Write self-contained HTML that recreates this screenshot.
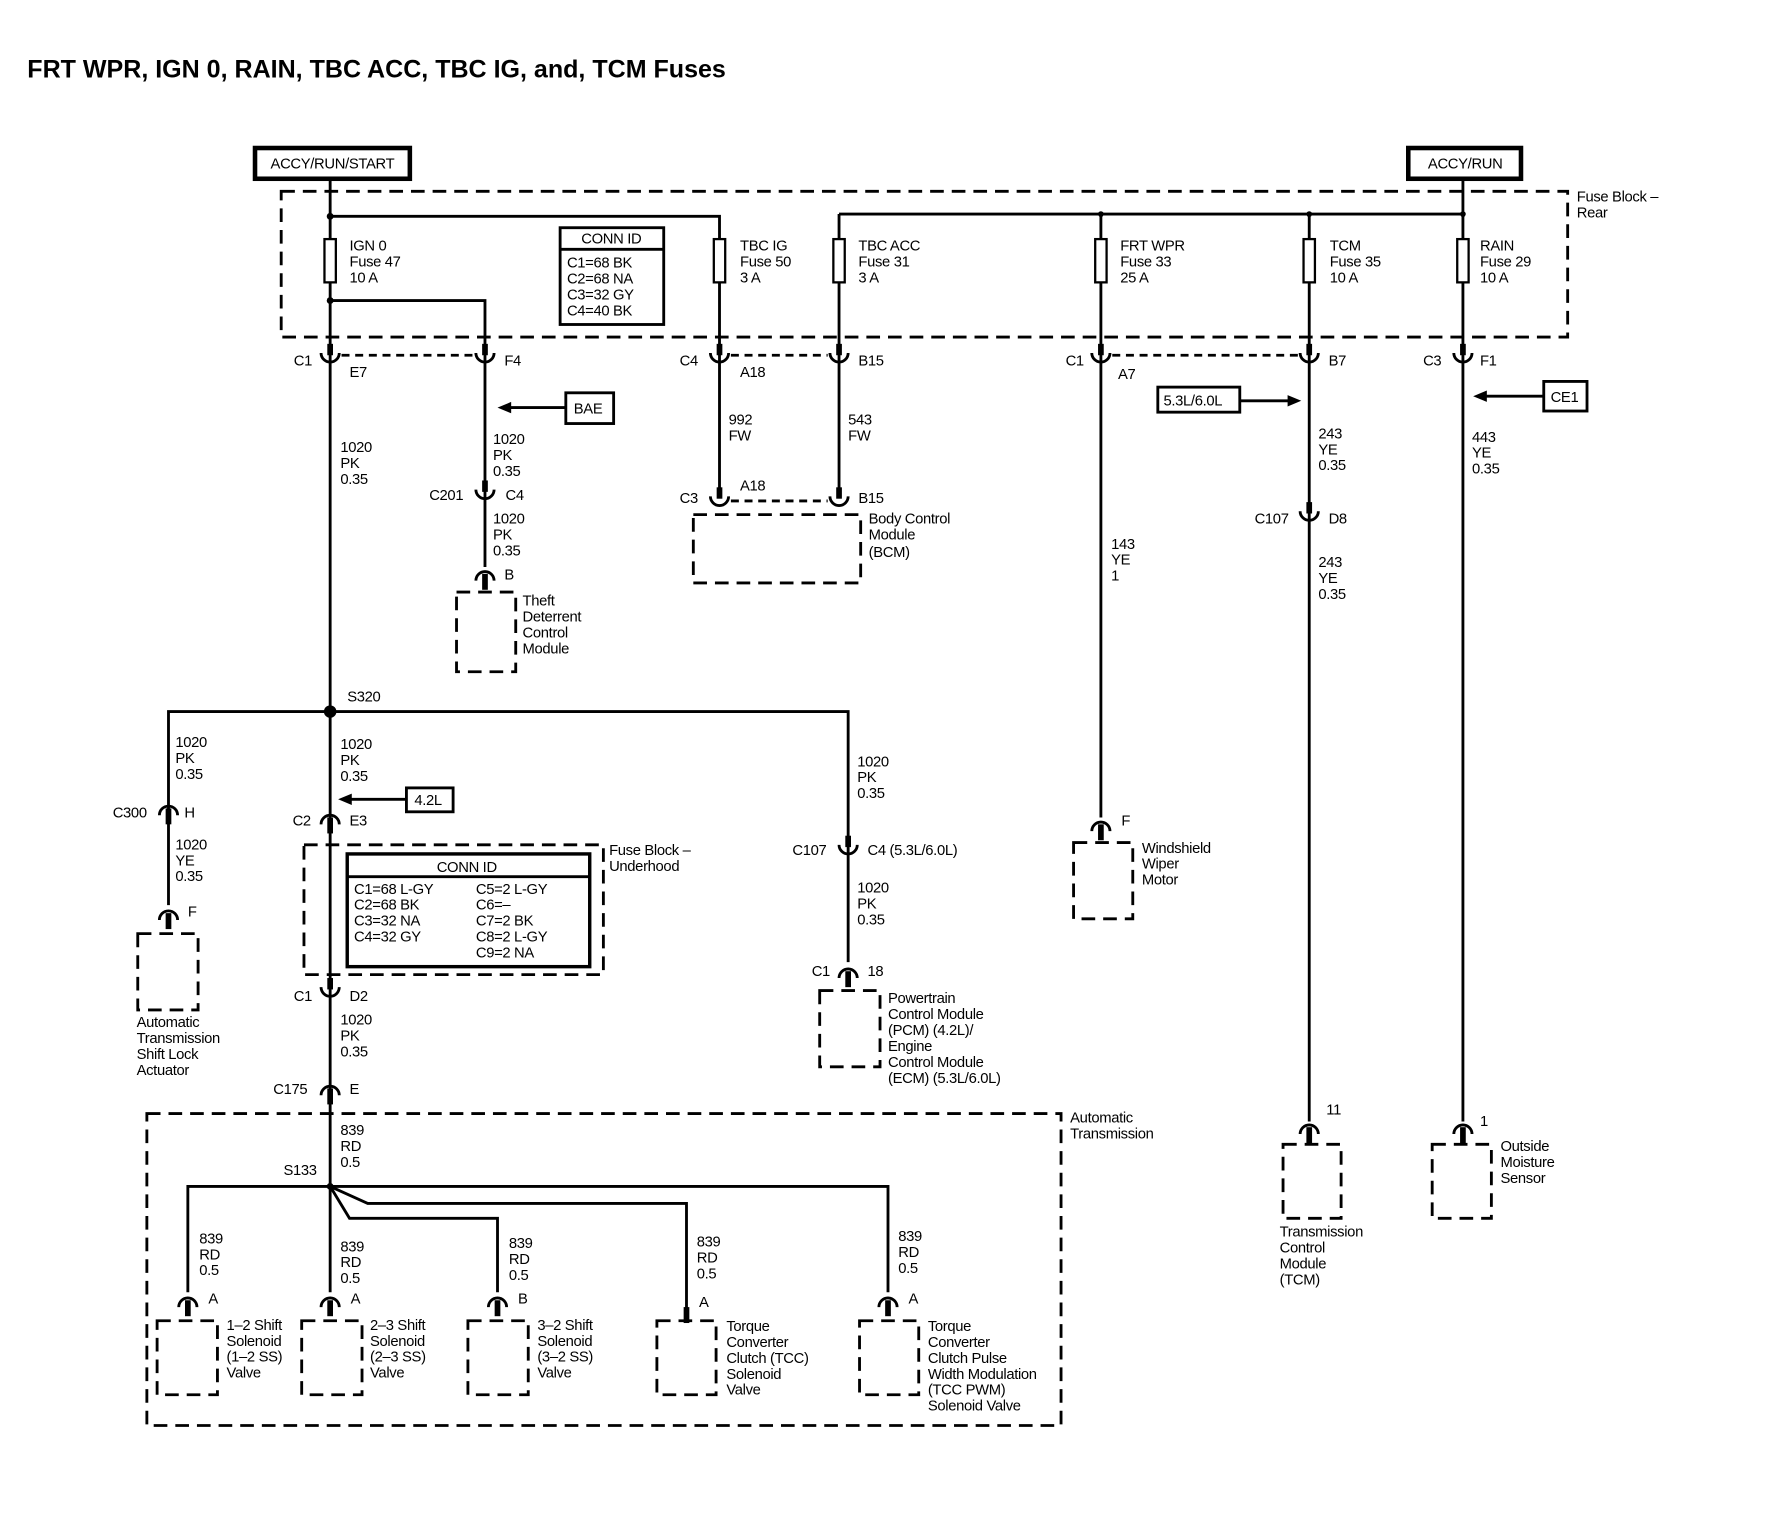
<!DOCTYPE html>
<html><head><meta charset="utf-8"><style>
html,body{margin:0;padding:0;background:#fff;}
svg{display:block;}
text{font-family:"Liberation Sans",sans-serif;font-size:13px;fill:#000;letter-spacing:-0.3px;}
.t{font-size:22px;font-weight:bold;letter-spacing:0;}
</style></head><body>
<svg width="1776" height="1520" viewBox="0 0 1560 1335" preserveAspectRatio="none" xmlns="http://www.w3.org/2000/svg">
<defs>
<g id="cup"><rect x="-2.5" y="-14" width="5" height="10" fill="#000"/><path d="M-8,-6 A8,8 0 0 0 8,-6" fill="none" stroke="#000" stroke-width="2.5"/></g>
<g id="arch"><path d="M-8,6 A8,8 0 0 1 8,6" fill="none" stroke="#000" stroke-width="2.5"/><rect x="-2.5" y="0" width="5" height="14" fill="#000"/></g>
<g id="fuse"><rect x="-5" y="-19" width="10" height="38" fill="#fff" stroke="#000" stroke-width="2"/></g>
</defs>
<text class="t" x="24" y="68">FRT WPR, IGN 0, RAIN, TBC ACC, TBC IG, and, TCM Fuses</text>

<g fill="none" stroke="#000" stroke-width="2.5">
<g stroke-dasharray="12 7">
<rect x="247" y="168" width="1130" height="128"/>
<rect x="267" y="742" width="263" height="114"/>
<rect x="129" y="978" width="803" height="274"/>
<rect x="609" y="452" width="147" height="60"/>
<rect x="401" y="520" width="52" height="70"/>
<rect x="943" y="740" width="52" height="67"/>
<rect x="1127" y="1005" width="51" height="65"/>
<rect x="1258" y="1005" width="52" height="65"/>
<rect x="121" y="820" width="53" height="67"/>
<rect x="720" y="870" width="53" height="67"/>
<rect x="138" y="1160" width="53" height="65"/>
<rect x="265" y="1160" width="53" height="65"/>
<rect x="411" y="1160" width="53" height="65"/>
<rect x="577" y="1160" width="52" height="65"/>
<rect x="755" y="1160" width="52" height="65"/>
</g>
<g stroke-dasharray="7 5">
<line x1="300" y1="312" x2="416" y2="312"/>
<line x1="642" y1="312" x2="727" y2="312"/>
<line x1="977" y1="312" x2="1140" y2="312"/>
<line x1="642" y1="440" x2="727" y2="440"/>
</g>
<polyline points="290,158 290,1042"/>
<polyline points="290,190 632,190 632,430"/>
<polyline points="290,264 426,264 426,498"/>
<polyline points="737,188 1285,188"/>
<line x1="1285" y1="158" x2="1285" y2="985"/>
<line x1="737" y1="188" x2="737" y2="430"/>
<line x1="967" y1="188" x2="967" y2="718"/>
<line x1="1150" y1="188" x2="1150" y2="985"/>
<polyline points="148,718 148,625 745,625 745,845"/>
<line x1="148" y1="718" x2="148" y2="795"/>
<polyline points="165,1135 165,1042 780,1042 780,1135"/>
<polyline points="290,1042 323,1057 603,1057 603,1160"/>
<polyline points="290,1042 307,1070 437,1070 437,1135"/>
<line x1="290" y1="1042" x2="290" y2="1135"/>
<line x1="497" y1="358" x2="445" y2="358"/>
<line x1="1356" y1="348" x2="1302" y2="348"/>
<line x1="357" y1="702" x2="305" y2="702"/>
<line x1="1089" y1="352" x2="1135" y2="352"/>
</g>
<g fill="#000">
<path d="M437,358 L449,353 L449,363Z"/>
<path d="M1294,348 L1306,343 L1306,353Z"/>
<path d="M297,702 L309,697 L309,707Z"/>
<path d="M1143,352 L1131,347 L1131,357Z"/>
<circle cx="290" cy="190" r="3"/><circle cx="290" cy="264" r="3"/>
<circle cx="967" cy="188" r="2.5"/><circle cx="1150" cy="188" r="2.5"/><circle cx="1285" cy="188" r="2.5"/>
<circle cx="290" cy="625" r="5.5"/><circle cx="290" cy="1042" r="3"/>
</g>
<use href="#fuse" x="290" y="229"/><use href="#fuse" x="632" y="229"/><use href="#fuse" x="737" y="229"/>
<use href="#fuse" x="967" y="229"/><use href="#fuse" x="1150" y="229"/><use href="#fuse" x="1285" y="229"/>
<use href="#cup" x="290" y="316"/><use href="#cup" x="426" y="316"/><use href="#cup" x="632" y="316"/>
<use href="#cup" x="737" y="316"/><use href="#cup" x="967" y="316"/><use href="#cup" x="1150" y="316"/><use href="#cup" x="1285" y="316"/>
<use href="#cup" x="426" y="436"/><use href="#cup" x="632" y="442"/><use href="#cup" x="737" y="442"/>
<use href="#cup" x="1150" y="455"/><use href="#cup" x="745" y="748"/><use href="#cup" x="290" y="873"/>
<use href="#arch" x="426" y="504"/><use href="#arch" x="967" y="724"/><use href="#arch" x="1150" y="990"/>
<use href="#arch" x="1285" y="990"/><use href="#arch" x="148" y="710"/><use href="#arch" x="148" y="802"/>
<use href="#arch" x="290" y="718"/><use href="#arch" x="745" y="853"/><use href="#arch" x="290" y="956"/>
<use href="#arch" x="165" y="1142"/><use href="#arch" x="290" y="1142"/><use href="#arch" x="437" y="1142"/><use href="#arch" x="780" y="1142"/>
<rect x="600.5" y="1148" width="5" height="14"/>
<rect x="224" y="130" width="136" height="27" fill="#fff" stroke="#000" stroke-width="4"/>
<text x="292" y="148" text-anchor="middle">ACCY/RUN/START</text>
<rect x="1237" y="130" width="99" height="27" fill="#fff" stroke="#000" stroke-width="4"/>
<text x="1287" y="148" text-anchor="middle">ACCY/RUN</text>
<rect x="492" y="200" width="91" height="85" fill="#fff" stroke="#000" stroke-width="2.5"/>
<line x1="492" y1="219" x2="583" y2="219" stroke="#000" stroke-width="2.5"/>
<text x="537" y="214" text-anchor="middle">CONN ID</text>
<text x="498" y="235">C1=68 BK</text><text x="498" y="249">C2=68 NA</text><text x="498" y="263">C3=32 GY</text><text x="498" y="277">C4=40 BK</text>
<rect x="305" y="750" width="213" height="99" fill="#fff" stroke="#000" stroke-width="3"/>
<line x1="305" y1="770" x2="518" y2="770" stroke="#000" stroke-width="2.5"/>
<text x="410" y="766" text-anchor="middle">CONN ID</text>
<text x="311" y="785">C1=68 L-GY</text><text x="311" y="799">C2=68 BK</text><text x="311" y="813">C3=32 NA</text><text x="311" y="827">C4=32 GY</text>
<text x="418" y="785">C5=2 L-GY</text><text x="418" y="799">C6=–</text><text x="418" y="813">C7=2 BK</text><text x="418" y="827">C8=2 L-GY</text><text x="418" y="841">C9=2 NA</text>
<g fill="#fff" stroke="#000" stroke-width="2.5">
<rect x="497" y="345" width="42" height="27"/><rect x="1356" y="335" width="38" height="26"/>
<rect x="357" y="692" width="41" height="21"/><rect x="1017" y="340" width="72" height="22"/>
</g>
<text x="504" y="363">BAE</text><text x="1362" y="353">CE1</text><text x="364" y="707">4.2L</text><text x="1022" y="356">5.3L/6.0L</text>
<text x="1385" y="177">Fuse Block –</text><text x="1385" y="191">Rear</text>
<text x="307" y="220">IGN 0</text><text x="307" y="234">Fuse 47</text><text x="307" y="248">10 A</text>
<text x="650" y="220">TBC IG</text><text x="650" y="234">Fuse 50</text><text x="650" y="248">3 A</text>
<text x="754" y="220">TBC ACC</text><text x="754" y="234">Fuse 31</text><text x="754" y="248">3 A</text>
<text x="984" y="220">FRT WPR</text><text x="984" y="234">Fuse 33</text><text x="984" y="248">25 A</text>
<text x="1168" y="220">TCM</text><text x="1168" y="234">Fuse 35</text><text x="1168" y="248">10 A</text>
<text x="1300" y="220">RAIN</text><text x="1300" y="234">Fuse 29</text><text x="1300" y="248">10 A</text>
<text x="258" y="321">C1</text><text x="307" y="331">E7</text><text x="443" y="321">F4</text>
<text x="597" y="321">C4</text><text x="650" y="331">A18</text><text x="754" y="321">B15</text>
<text x="936" y="321">C1</text><text x="982" y="333">A7</text><text x="1167" y="321">B7</text>
<text x="1250" y="321">C3</text><text x="1300" y="321">F1</text>
<text x="299" y="397">1020</text><text x="299" y="411">PK</text><text x="299" y="425">0.35</text>
<text x="433" y="390">1020</text><text x="433" y="404">PK</text><text x="433" y="418">0.35</text>
<text x="377" y="439">C201</text><text x="444" y="439">C4</text>
<text x="433" y="460">1020</text><text x="433" y="474">PK</text><text x="433" y="488">0.35</text>
<text x="443" y="509">B</text>
<text x="459" y="532">Theft</text><text x="459" y="546">Deterrent</text><text x="459" y="560">Control</text><text x="459" y="574">Module</text>
<text x="640" y="373">992</text><text x="640" y="387">FW</text><text x="745" y="373">543</text><text x="745" y="387">FW</text>
<text x="597" y="442">C3</text><text x="650" y="431">A18</text><text x="754" y="442">B15</text>
<text x="763" y="460">Body Control</text><text x="763" y="474">Module</text><text x="763" y="489">(BCM)</text>
<text x="976" y="482">143</text><text x="976" y="496">YE</text><text x="976" y="510">1</text>
<text x="985" y="725">F</text>
<text x="1003" y="749">Windshield</text><text x="1003" y="763">Wiper</text><text x="1003" y="777">Motor</text>
<text x="1158" y="385">243</text><text x="1158" y="399">YE</text><text x="1158" y="413">0.35</text>
<text x="1102" y="460">C107</text><text x="1167" y="460">D8</text>
<text x="1158" y="498">243</text><text x="1158" y="512">YE</text><text x="1158" y="526">0.35</text>
<text x="1165" y="979">11</text>
<text x="1124" y="1086">Transmission</text><text x="1124" y="1100">Control</text><text x="1124" y="1114">Module</text><text x="1124" y="1128">(TCM)</text>
<text x="1293" y="388">443</text><text x="1293" y="402">YE</text><text x="1293" y="416">0.35</text>
<text x="1300" y="989">1</text>
<text x="1318" y="1011">Outside</text><text x="1318" y="1025">Moisture</text><text x="1318" y="1039">Sensor</text>
<text x="305" y="616">S320</text>
<text x="154" y="656">1020</text><text x="154" y="670">PK</text><text x="154" y="684">0.35</text>
<text x="299" y="658">1020</text><text x="299" y="672">PK</text><text x="299" y="686">0.35</text>
<text x="753" y="673">1020</text><text x="753" y="687">PK</text><text x="753" y="701">0.35</text>
<text x="99" y="718">C300</text><text x="162" y="718">H</text>
<text x="154" y="746">1020</text><text x="154" y="760">YE</text><text x="154" y="774">0.35</text>
<text x="165" y="805">F</text>
<text x="120" y="902">Automatic</text><text x="120" y="916">Transmission</text><text x="120" y="930">Shift Lock</text><text x="120" y="944">Actuator</text>
<text x="257" y="725">C2</text><text x="307" y="725">E3</text>
<text x="535" y="751">Fuse Block –</text><text x="535" y="765">Underhood</text>
<text x="696" y="751">C107</text><text x="762" y="751">C4 (5.3L/6.0L)</text>
<text x="753" y="784">1020</text><text x="753" y="798">PK</text><text x="753" y="812">0.35</text>
<text x="713" y="857">C1</text><text x="762" y="857">18</text>
<text x="780" y="881">Powertrain</text><text x="780" y="895">Control Module</text><text x="780" y="909">(PCM) (4.2L)/</text><text x="780" y="923">Engine</text><text x="780" y="937">Control Module</text><text x="780" y="951">(ECM) (5.3L/6.0L)</text>
<text x="258" y="879">C1</text><text x="307" y="879">D2</text>
<text x="299" y="900">1020</text><text x="299" y="914">PK</text><text x="299" y="928">0.35</text>
<text x="240" y="961">C175</text><text x="307" y="961">E</text>
<text x="940" y="986">Automatic</text><text x="940" y="1000">Transmission</text>
<text x="299" y="997">839</text><text x="299" y="1011">RD</text><text x="299" y="1025">0.5</text>
<text x="249" y="1032">S133</text>
<text x="175" y="1092">839</text><text x="175" y="1106">RD</text><text x="175" y="1120">0.5</text>
<text x="299" y="1099">839</text><text x="299" y="1113">RD</text><text x="299" y="1127">0.5</text>
<text x="447" y="1096">839</text><text x="447" y="1110">RD</text><text x="447" y="1124">0.5</text>
<text x="612" y="1095">839</text><text x="612" y="1109">RD</text><text x="612" y="1123">0.5</text>
<text x="789" y="1090">839</text><text x="789" y="1104">RD</text><text x="789" y="1118">0.5</text>
<text x="183" y="1145">A</text><text x="308" y="1145">A</text><text x="455" y="1145">B</text><text x="614" y="1148">A</text><text x="798" y="1145">A</text>
<text x="199" y="1168">1–2 Shift</text><text x="199" y="1182">Solenoid</text><text x="199" y="1196">(1–2 SS)</text><text x="199" y="1210">Valve</text>
<text x="325" y="1168">2–3 Shift</text><text x="325" y="1182">Solenoid</text><text x="325" y="1196">(2–3 SS)</text><text x="325" y="1210">Valve</text>
<text x="472" y="1168">3–2 Shift</text><text x="472" y="1182">Solenoid</text><text x="472" y="1196">(3–2 SS)</text><text x="472" y="1210">Valve</text>
<text x="638" y="1169">Torque</text><text x="638" y="1183">Converter</text><text x="638" y="1197">Clutch (TCC)</text><text x="638" y="1211">Solenoid</text><text x="638" y="1225">Valve</text>
<text x="815" y="1169">Torque</text><text x="815" y="1183">Converter</text><text x="815" y="1197">Clutch Pulse</text><text x="815" y="1211">Width Modulation</text><text x="815" y="1225">(TCC PWM)</text><text x="815" y="1239">Solenoid Valve</text>
</svg>
</body></html>
